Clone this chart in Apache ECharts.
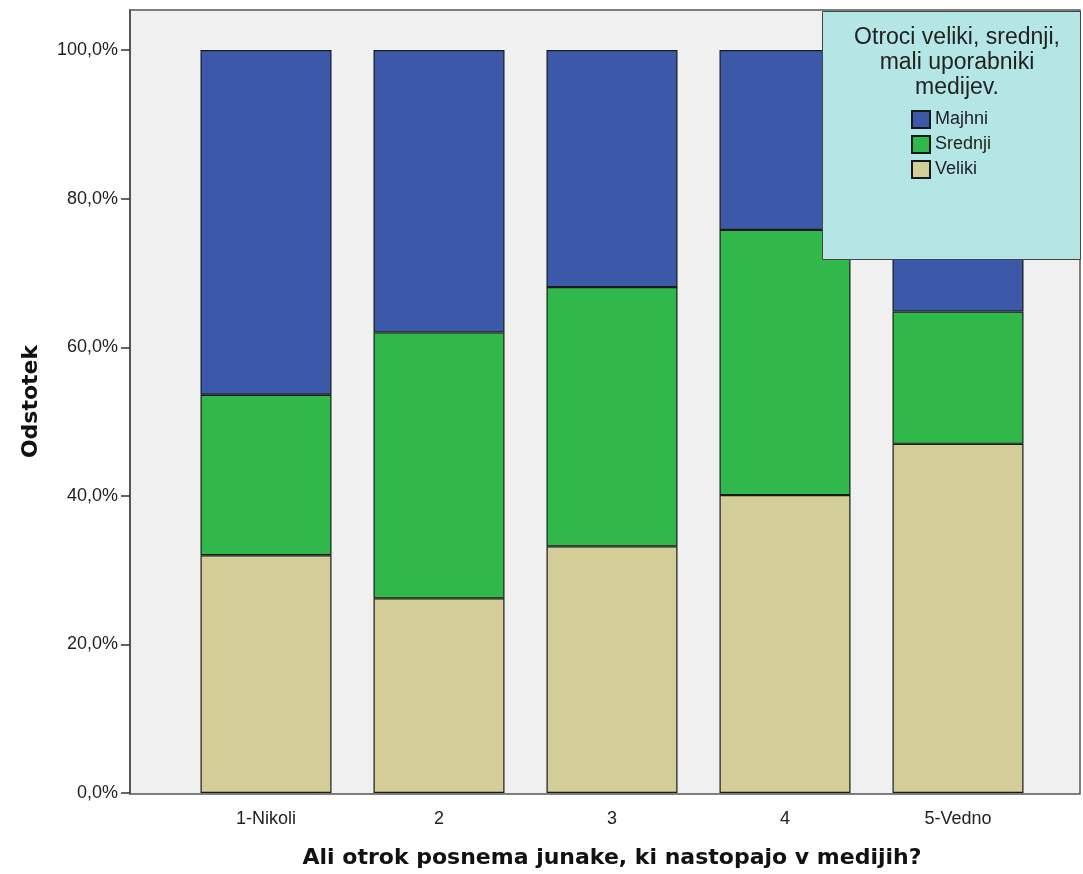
<!DOCTYPE html>
<html>
<head>
<meta charset="utf-8">
<script src="https://cdn.jsdelivr.net/npm/echarts@6/dist/echarts.min.js"></script>
<style>html,body{margin:0;padding:0;background:#fff}#c{width:1083px;height:874px}</style>
</head>
<body>
<div id="c"></div>
<script>
const categories = ['1-Nikoli', '2', '3', '4', '5-Vedno'];
const veliki = [32.0, 26.2, 33.2, 40.1, 47.0];
const srednji = [21.6, 35.8, 34.9, 35.7, 17.8];
const majhni = [46.4, 38.0, 31.9, 24.2, 35.2];
const yTicks = [0, 20, 40, 60, 80, 100];
const legendTitle = 'Otroci veliki, srednji,\nmali uporabniki\nmedijev.';
const xTitle = 'Ali otrok posnema junake, ki nastopajo v medijih?';
const yTitle = 'Odstotek';

const chart = echarts.init(document.getElementById('c'), null, {renderer: 'canvas'});
const border = {borderColor: '#1a1a1a', borderWidth: 1.2};
const tickFont = {fontFamily: 'Liberation Sans, Arial, sans-serif', fontSize: 18, color: '#222'};
const fmt = v => v.toFixed(1).replace('.', ',') + '%';

chart.setOption({
  animation: false,
  backgroundColor: '#ffffff',
  grid: [
    {left: 130, top: 10, width: 950, height: 784, show: true, backgroundColor: '#f0f0f0', borderColor: '#555', borderWidth: 1.5},
    {left: 179.5, top: 10, width: 865, height: 784, show: false}
  ],
  title: {
    text: legendTitle, left: 952, top: 20, textAlign: 'center', z: 20,
    textStyle: {fontFamily: 'Liberation Sans, Arial, sans-serif', fontSize: 23, fontWeight: 'normal', color: '#222', lineHeight: 25}
  },
  graphic: [{
    type: 'rect', z: 10, left: 822, top: 11,
    shape: {width: 258, height: 248},
    style: {fill: '#b4e6e6', stroke: '#444', lineWidth: 1}
  }],
  legend: {
    orient: 'vertical', left: 906, top: 105, z: 20, padding: 5,
    data: ['Majhni', 'Srednji', 'Veliki'],
    icon: 'rect', itemWidth: 18, itemHeight: 17, itemGap: 6,
    textStyle: {fontFamily: 'Liberation Sans, Arial, sans-serif', fontSize: 18, color: '#222'}
  },
  xAxis: [
    {gridIndex: 0, type: 'value', show: false, min: 0, max: 1},
    {
      gridIndex: 1, type: 'category', data: categories,
      name: xTitle, nameLocation: 'middle', nameGap: 54,
      nameTextStyle: {fontFamily: 'DejaVu Sans, Verdana, sans-serif', fontWeight: 'bold', fontSize: 22, color: '#111'},
      axisLine: {show: false},
      axisTick: {alignWithLabel: true, length: 8, lineStyle: {color: '#333', width: 1.5}},
      axisLabel: Object.assign({margin: 17}, tickFont)
    }
  ],
  yAxis: [
    {gridIndex: 0, type: 'value', show: false, min: 0, max: 1},
    {
      gridIndex: 1, type: 'value', min: 0, max: 105.4, offset: 49.5,
      name: yTitle, nameLocation: 'middle', nameGap: 88, nameRotate: 90,
      nameTextStyle: {fontFamily: 'DejaVu Sans, Verdana, sans-serif', fontWeight: 'bold', fontSize: 22, color: '#111'},
      axisLine: {show: true, lineStyle: {color: '#555', width: 2}},
      axisTick: {show: true, length: 9, customValues: yTicks, lineStyle: {color: '#333', width: 1.5}},
      axisLabel: Object.assign({margin: 12, customValues: yTicks, formatter: fmt}, tickFont),
      splitLine: {show: false}
    }
  ],
  series: [
    {name: 'Veliki', type: 'bar', stack: 's', xAxisIndex: 1, yAxisIndex: 1, barWidth: 131, data: veliki, itemStyle: Object.assign({color: '#d3ce97'}, border)},
    {name: 'Srednji', type: 'bar', stack: 's', xAxisIndex: 1, yAxisIndex: 1, barWidth: 131, data: srednji, itemStyle: Object.assign({color: '#30b84a'}, border)},
    {name: 'Majhni', type: 'bar', stack: 's', xAxisIndex: 1, yAxisIndex: 1, barWidth: 131, data: majhni, itemStyle: Object.assign({color: '#3c58a8'}, border)}
  ]
});
</script>
</body>
</html>
